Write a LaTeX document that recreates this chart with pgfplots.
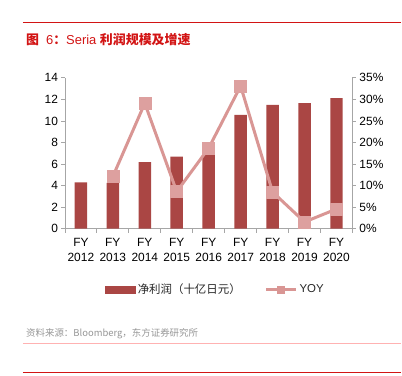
\documentclass[border=0pt]{standalone}
\usepackage{fontspec}
\setmainfont{Liberation Sans}
\newfontfamily\cjk{Noto Sans CJK SC}
\usepackage{pgfplots}
\pgfplotsset{compat=1.18}
\definecolor{barred}{RGB}{170,70,68}
\definecolor{linepink}{RGB}{217,150,148}
\definecolor{titlered}{RGB}{210,20,20}
\definecolor{axgray}{RGB}{166,166,166}
\definecolor{srcgray}{RGB}{150,150,150}
\begin{document}
\begin{tikzpicture}[x=1bp,y=1bp]
\path (0,0) rectangle (402,376);
\draw[titlered, line width=0.9bp] (23,354) -- (402,354);
\node[anchor=west, inner sep=0pt, text=titlered, font=\fontsize{13}{13}\selectfont] at (26,336) {{\cjk\bfseries 图}\hspace{7bp}6{\cjk\bfseries ：}Seria {\cjk\bfseries 利润规模及增速}};
\node[anchor=west, inner sep=0pt, text=srcgray, font=\cjk\fontsize{9.5}{10}\selectfont] at (26,42) {资料来源：Bloomberg，东方证券研究所};
\draw[red!30, line width=1.2bp] (23,32) -- (402,32);
\draw[titlered, line width=0.9bp] (23,3) -- (402,3);

\begin{axis}[
  at={(65bp,147bp)}, anchor=south west, scale only axis,
  width=288bp, height=151bp,
  xmin=-0.5, xmax=8.5, ymin=0, ymax=14,
  axis y line*=left, axis x line*=bottom,
  axis line style={axgray, line width=0.8bp, -},
  tick style={axgray, line width=0.8bp},
  tick align=outside, major tick length=3.5bp,
  ytick={0,2,...,14},
  xtick={0,...,8},
  x tick style={draw=none},
  xticklabels={{FY\\2012},{FY\\2013},{FY\\2014},{FY\\2015},{FY\\2016},{FY\\2017},{FY\\2018},{FY\\2019},{FY\\2020}},
  x tick label style={align=center, font=\fontsize{12}{15}\selectfont, yshift=-3bp},
  y tick label style={font=\fontsize{12}{14}\selectfont},
  extra x ticks={-0.5,0.5,...,8.5},
  extra x tick labels={},
  extra x tick style={x tick style={axgray, draw=axgray, line width=0.8bp}, major tick length=4bp},
  /pgf/number format/assume math mode=true,
  legend style={at={(0.524,-0.404)}, anchor=center, draw=none, fill=none,
    legend columns=2, font=\cjk\fontsize{11.5}{12}\selectfont, text=black!85,
    /tikz/every even column/.append style={column sep=22bp}},
]
\addplot[ybar, bar width=12.5bp, fill=barred, draw=none, forget plot] coordinates {
 (0,4.30) (1,4.24) (2,6.18) (3,6.70) (4,7.60) (5,10.57) (6,11.49) (7,11.65) (8,12.11)};
\addlegendimage{legend image code/.code={\fill[barred] (0bp,-3.5bp) rectangle (30bp,3.5bp);}}
\addlegendentry{净利润（十亿日元）}
\addlegendimage{legend image code/.code={\draw[linepink, line width=3bp] (0bp,0bp) -- (30bp,0bp); \fill[linepink] (11.5bp,-3.5bp) rectangle (18.5bp,3.5bp);}}
\addlegendentry{\rmfamily YOY}
\end{axis}

\begin{axis}[
  at={(65bp,147bp)}, anchor=south west, scale only axis,
  width=288bp, height=151bp,
  xmin=-0.5, xmax=8.5, ymin=0, ymax=35,
  axis y line*=right, axis x line=none,
  axis line style={axgray, line width=0.8bp, -},
  tick style={axgray, line width=0.8bp},
  tick align=outside, major tick length=3.5bp,
  ytick={0,5,...,35},
  yticklabel={\pgfmathprintnumber{\tick}\%},
  y tick label style={font=\fontsize{12}{14}\selectfont},
  /pgf/number format/assume math mode=true,
]
\addplot[linepink, line width=3bp, mark=square*, mark size=6bp, mark options={fill=linepink!90!white, draw=linepink!90!white, line width=0.5bp}] coordinates {
 (1,12.1) (2,29.1) (3,8.6) (4,18.7) (5,33.1) (6,8.5) (7,1.55) (8,4.56)};
\end{axis}
\end{tikzpicture}
\end{document}
